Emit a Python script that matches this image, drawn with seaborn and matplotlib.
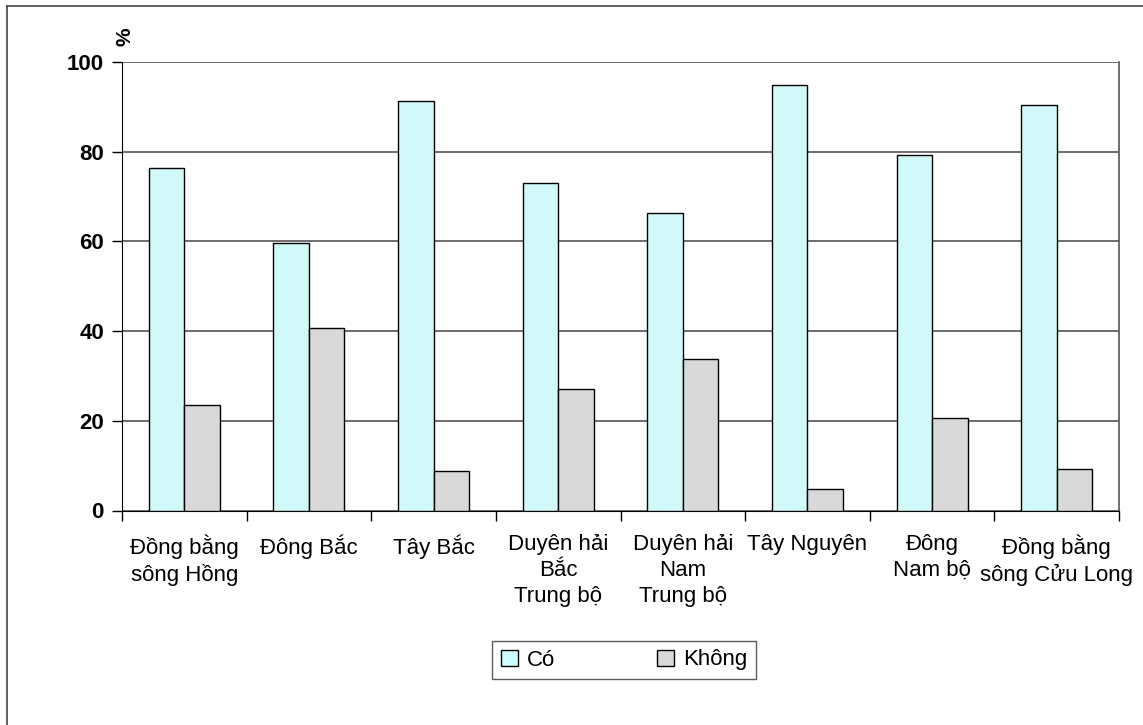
import matplotlib
matplotlib.use("Agg")
import matplotlib.pyplot as plt
from matplotlib.lines import Line2D
import seaborn as sns
import pandas as pd

regions = [
    "Đồng bằng\nsông Hồng",
    "Đông Bắc",
    "Tây Bắc",
    "Duyên hải\nBắc\nTrung bộ",
    "Duyên hải\nNam\nTrung bộ",
    "Tây Nguyên",
    "Đông\nNam bộ",
    "Đồng bằng\nsông Cửu Long",
]
series_names = ["Có", "Không"]
co_values = [76.3, 59.6, 91.2, 73.0, 66.4, 94.9, 79.2, 90.4]
khong_values = [23.6, 40.6, 8.9, 27.0, 33.8, 4.7, 20.7, 9.3]
y_ticks = [0, 20, 40, 60, 80, 100]
colors = ["#CCFFFF", "#D9D9D9"]

df = pd.DataFrame({
    "region": regions * 2,
    "series": [series_names[0]] * len(regions) + [series_names[1]] * len(regions),
    "value": co_values + khong_values,
})

plt.rcParams["font.family"] = ["Liberation Sans", "DejaVu Sans"]

fig = plt.figure(figsize=(11.43, 7.25), dpi=100)
ax = fig.add_axes([122 / 1143, 1 - 510.5 / 725, (1119 - 122) / 1143, 448.5 / 725])

sns.barplot(
    data=df, x="region", y="value", hue="series", order=regions,
    hue_order=series_names, palette=colors, width=0.57,
    edgecolor="black", linewidth=1.0, ax=ax, legend=False, zorder=3,
)

ax.set_xlim(-0.5, len(regions) - 0.5)
ax.set_ylim(0, 100)
ax.set_yticks(y_ticks)
ax.set_yticklabels([str(t) for t in y_ticks], fontsize=16, fontweight="bold")
ax.yaxis.grid(True, color="#555555", linewidth=1.2, zorder=0)
ax.set_axisbelow(True)

ax.set_xticks(range(len(regions)))
ax.set_xticklabels(regions, fontsize=16, linespacing=1.3)
ax.tick_params(axis="x", which="major", length=0, pad=17)
ax.set_xticks([i - 0.5 for i in range(len(regions) + 1)], minor=True)
ax.tick_params(axis="x", which="minor", length=7, width=1, color="black")
ax.tick_params(axis="y", length=7, width=1, color="black", pad=6)
ax.set_xlabel("")
ax.set_ylabel("")

ax.spines["left"].set_color("black")
ax.spines["bottom"].set_color("black")
ax.spines["top"].set_visible(False)
ax.spines["right"].set_color("#555555")
ax.spines["right"].set_linewidth(1.2)

ax.text(0.003, 1.035, "%", transform=ax.transAxes, rotation=90,
        fontsize=15, fontweight="bold", ha="center", va="bottom")

handles = [
    plt.Rectangle((0, 0), 1, 1, facecolor=colors[0], edgecolor="black", linewidth=1),
    plt.Rectangle((0, 0), 1, 1, facecolor=colors[1], edgecolor="black", linewidth=1),
]
leg = fig.legend(
    handles, series_names, loc="center", bbox_to_anchor=(624 / 1143, 1 - 660 / 725),
    ncol=2, fontsize=16, frameon=True, fancybox=False, handlelength=0.75,
    handleheight=0.75, handletextpad=0.4, columnspacing=4.6, borderpad=0.4,
    borderaxespad=0,
)
leg.get_frame().set_edgecolor("#333333")
leg.get_frame().set_linewidth(1.0)

# outer chart frame (top and left edges)
fig.add_artist(Line2D([7 / 1143, 1], [1 - 6 / 725, 1 - 6 / 725], transform=fig.transFigure,
                      color="#444444", linewidth=1.2))
fig.add_artist(Line2D([7 / 1143, 7 / 1143], [0, 1 - 6 / 725], transform=fig.transFigure,
                      color="#444444", linewidth=1.2))

fig.savefig("out.png", dpi=100)
